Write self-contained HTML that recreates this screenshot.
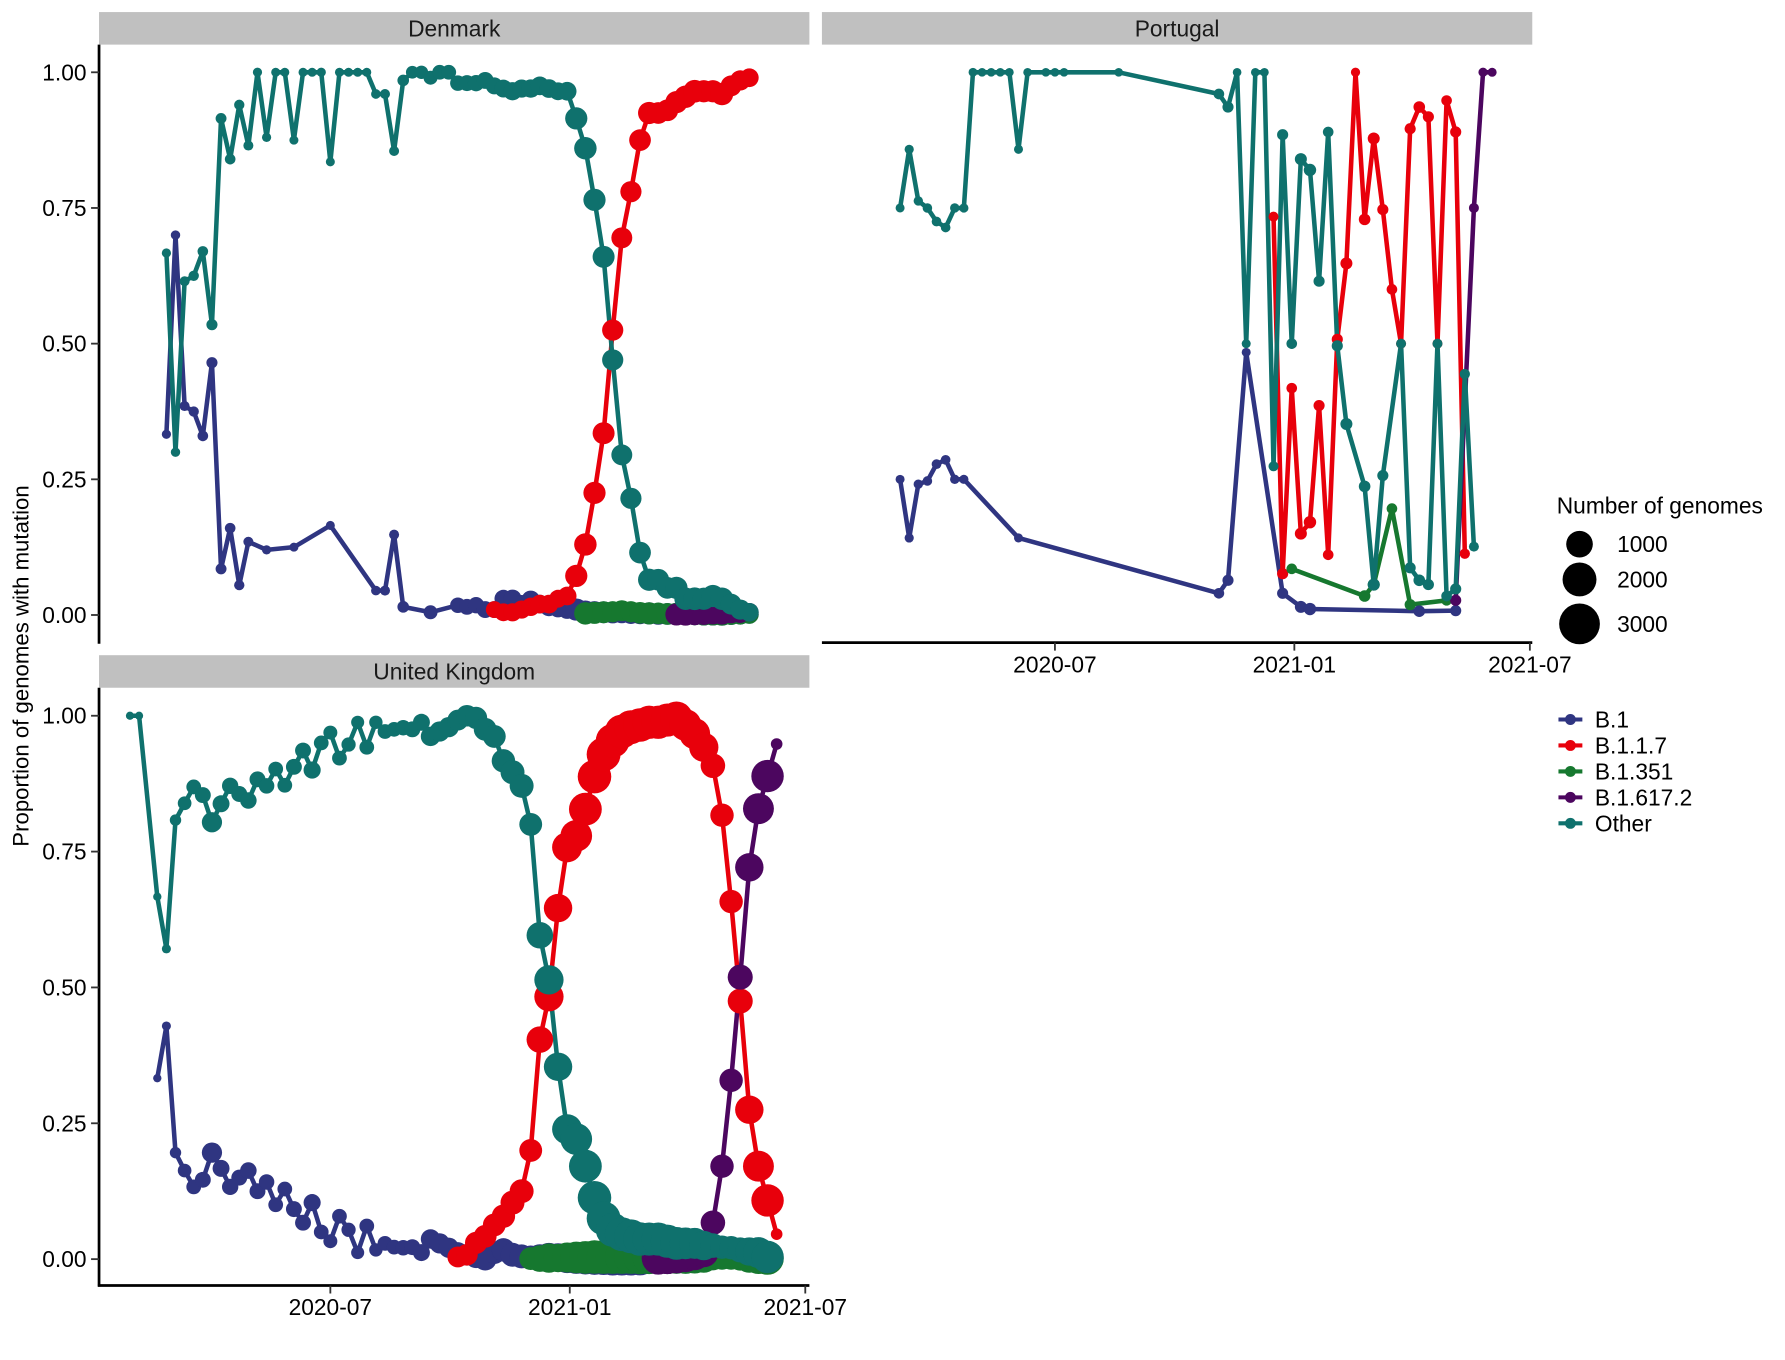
<!DOCTYPE html>
<html>
<head>
<meta charset="utf-8">
<style>
html,body{margin:0;padding:0;background:#fff;}
svg{display:block;font-family:"Liberation Sans",Arial,sans-serif;}
</style>
</head>
<body>
<svg id="chart" width="1785" height="1360" viewBox="0 0 1568 1194.6" preserveAspectRatio="none" xmlns="http://www.w3.org/2000/svg">
  <rect x="0" y="0" width="1568" height="1194.6" fill="#fff"/>
  <g>
    <rect x="87" y="10.6" width="624" height="28.6" fill="#c0c0c0"/>
    <text x="399" y="32" font-size="20" text-anchor="middle" fill="#1a1a1a">Denmark</text>
  </g>
  <g>
    <rect x="722" y="10.6" width="624" height="28.6" fill="#c0c0c0"/>
    <text x="1034" y="32" font-size="20" text-anchor="middle" fill="#1a1a1a">Portugal</text>
  </g>
  <g>
    <rect x="87" y="575.5" width="624" height="28.6" fill="#c0c0c0"/>
    <text x="399" y="597" font-size="20" text-anchor="middle" fill="#1a1a1a">United Kingdom</text>
  </g>
  <text transform="translate(25,585) rotate(-90)" font-size="19.5" text-anchor="middle" fill="#000">Proportion of genomes with mutation</text>
  <g id="axes"></g>
  <g id="marks"></g>
  <g>
    <text x="1367.5" y="451" font-size="20" fill="#000">Number of genomes</text>
    <circle cx="1387.5" cy="478" r="11.7" fill="#000"/>
    <text x="1420.5" y="485" font-size="20" fill="#000">1000</text>
    <circle cx="1387.5" cy="509" r="14.9" fill="#000"/>
    <text x="1420.5" y="516" font-size="20" fill="#000">2000</text>
    <circle cx="1387.5" cy="548" r="17.9" fill="#000"/>
    <text x="1420.5" y="555" font-size="20" fill="#000">3000</text>
  </g>
  <g id="legend"></g>
</svg>
<script>
const _ = null;
const weeks = ["2020-01-29","2020-02-05","2020-02-12","2020-02-19","2020-02-26","2020-03-04","2020-03-11","2020-03-18","2020-03-25","2020-04-01",
"2020-04-08","2020-04-15","2020-04-22","2020-04-29","2020-05-06","2020-05-13","2020-05-20","2020-05-27","2020-06-03","2020-06-10",
"2020-06-17","2020-06-24","2020-07-01","2020-07-08","2020-07-15","2020-07-22","2020-07-29","2020-08-05","2020-08-12","2020-08-19",
"2020-08-26","2020-09-02","2020-09-09","2020-09-16","2020-09-23","2020-09-30","2020-10-07","2020-10-14","2020-10-21","2020-10-28",
"2020-11-04","2020-11-11","2020-11-18","2020-11-25","2020-12-02","2020-12-09","2020-12-16","2020-12-23","2020-12-30","2021-01-06",
"2021-01-13","2021-01-20","2021-01-27","2021-02-03","2021-02-10","2021-02-17","2021-02-24","2021-03-03","2021-03-10","2021-03-17",
"2021-03-24","2021-03-31","2021-04-07","2021-04-14","2021-04-21","2021-04-28","2021-05-05","2021-05-12","2021-05-19","2021-05-26",
"2021-06-02","2021-06-09"];
const variants = ["B.1","B.1.1.7","B.1.351","B.1.617.2","Other"];
const colors = ["#2f3581","#e8000b","#16782f","#4c065f","#0f716d"];
const xTickLabels = ["2020-07","2021-01","2021-07"];
const xTickDates = ["2020-07-01","2021-01-01","2021-07-01"];
const yTickValues = [0,0.25,0.5,0.75,1];
const yTickLabels = ["0.00","0.25","0.50","0.75","1.00"];

// Denmark
const dkB1 = [_,_,_,_,.333,.70,.385,.375,.33,.465, .085,.16,.055,.135,_,.12,_,_,.125,_, _,_,.165,_,_,_,_,.045,.045,.148, .015,_,_,.005,_,_,.018,.015,.018,.01, .01,.03,.03,.02,.028,.02,.015,.012,.01,.01, .006,.005,.005,.004,.004,.003,.003,.003,.002,.002, .002,.002,.002,.001,.001,.001,.001,.001,.001,_, _,_];
const dkB117 = [_,_,_,_,_,_,_,_,_,_, _,_,_,_,_,_,_,_,_,_, _,_,_,_,_,_,_,_,_,_, _,_,_,_,_,_,_,_,_,_, .01,.005,.005,.01,.015,.02,.02,.03,.035,.072, .13,.225,.335,.525,.695,.78,.875,.925,.925,.93, .945,.955,.965,.965,.965,.96,.975,.985,.99,_, _,_];
const dkB1351 = [_,_,_,_,_,_,_,_,_,_, _,_,_,_,_,_,_,_,_,_, _,_,_,_,_,_,_,_,_,_, _,_,_,_,_,_,_,_,_,_, _,_,_,_,_,_,_,_,_,_, .003,.004,.005,.006,.008,.006,.004,.003,.003,.002, .002,.002,.002,.001,.001,.001,.001,.001,.001,_, _,_];
const dkB16172 = [_,_,_,_,_,_,_,_,_,_, _,_,_,_,_,_,_,_,_,_, _,_,_,_,_,_,_,_,_,_, _,_,_,_,_,_,_,_,_,_, _,_,_,_,_,_,_,_,_,_, _,_,_,_,_,_,_,_,_,_, .001,.001,.002,.002,.003,.003,.004,.004,.005,_, _,_];
const dkOther = [_,_,_,_,.667,.30,.615,.625,.67,.535, .915,.84,.94,.865,1,.88,1,1,.875,1, 1,1,.835,1,1,1,1,.96,.96,.855, .985,1,1,.99,1,1,.98,.98,.98,.985, .975,.97,.965,.97,.97,.975,.97,.965,.965,.915, .86,.765,.66,.47,.295,.215,.115,.065,.065,.05, .05,.03,.03,.03,.035,.03,.02,.01,.005,_, _,_];
const dkCount = [0,0,0,0,10,12,20,25,30,40, 35,30,25,20,10,10,8,8,8,8, 8,10,8,8,8,8,8,15,20,20, 50,80,100,120,150,150,180,200,220,250, 250,300,320,320,330,350,350,300,350,600, 620,600,580,520,500,520,560,600,560,560, 600,620,640,600,600,620,500,450,350,0, 0,0];

// Portugal
const ptB1 = [_,_,_,_,_,.25,.142,.241,.247,.278, .286,.25,.25,_,_,_,_,_,.142,_, _,_,_,_,_,_,_,_,_,_, _,_,_,_,_,_,_,_,_,_, .04,.064,_,.484,_,_,_,.04,_,.015, .011,_,_,_,_,_,_,_,_,_, _,_,.007,_,_,_,.008,_,_,_, _,_];
const ptB117 = [_,_,_,_,_,_,_,_,_,_, _,_,_,_,_,_,_,_,_,_, _,_,_,_,_,_,_,_,_,_, _,_,_,_,_,_,_,_,_,_, _,_,_,_,_,_,.734,.076,.418,.15, .171,.386,.111,.508,.648,1.0,.729,.878,.747,.6, .5,.896,.936,.918,.5,.948,.89,.113,_,_, _,_];
const ptB1351 = [_,_,_,_,_,_,_,_,_,_, _,_,_,_,_,_,_,_,_,_, _,_,_,_,_,_,_,_,_,_, _,_,_,_,_,_,_,_,_,_, _,_,_,_,_,_,_,_,.085,_, _,_,_,_,_,_,.035,.056,_,.196, _,.019,_,_,_,.027,_,_,_,_, _,_];
const ptB16172 = [_,_,_,_,_,_,_,_,_,_, _,_,_,_,_,_,_,_,_,_, _,_,_,_,_,_,_,_,_,_, _,_,_,_,_,_,_,_,_,_, _,_,_,_,_,_,_,_,_,_, _,_,_,_,_,_,_,_,_,_, _,_,_,_,_,_,.027,_,.75,1, 1,_];
const ptOther = [_,_,_,_,_,.75,.858,.763,.75,.725, .714,.75,.75,1,1,1,1,1,.858,1, _,1,1,1,_,_,_,_,_,1, _,_,_,_,_,_,_,_,_,_, .96,.936,1,.5,1,1,.274,.885,.5,.84, .82,.615,.89,.496,.352,_,.237,.056,.257,_, .5,.087,.064,.056,.5,.035,.048,.444,.126,_, _,_];
const ptCount = [0,0,0,0,0,8,10,12,14,16, 15,12,10,6,5,5,5,5,8,5, 0,5,5,5,0,0,0,0,0,5, 0,0,0,0,0,0,0,0,0,0, 30,40,5,8,5,5,20,40,30,60, 70,40,30,40,60,10,50,60,40,30, 20,40,50,40,20,30,40,25,20,10, 8,0];

// United Kingdom
const ukB1 = [_,_,_,.333,.429,.196,.163,.133,.146,.196, .167,.133,.15,.163,.125,.142,.1,.129,.092,.067, .104,.05,.033,.079,.054,.012,.061,.017,.029,.022, .021,.022,.012,.037,.029,.021,.012,.008,.004,0, .012,.017,.008,.005,.004,.003,.003,.003,.002,.002, .002,.002,.002,.001,.001,.001,.001,_,_,_, _,_,_,_,_,_,_,_,_,_, _,_];
const ukB117 = [_,_,_,_,_,_,_,_,_,_, _,_,_,_,_,_,_,_,_,_, _,_,_,_,_,_,_,_,_,_, _,_,_,_,_,_,.004,.008,.03,.042, .063,.079,.104,.125,.2,.404,.483,.646,.758,.779, .828,.888,.929,.954,.971,.979,.983,.988,.988,.992, .996,.983,.967,.942,.908,.817,.658,.475,.275,.171, .108,.046];
const ukB1351 = [_,_,_,_,_,_,_,_,_,_, _,_,_,_,_,_,_,_,_,_, _,_,_,_,_,_,_,_,_,_, _,_,_,_,_,_,_,_,_,_, _,_,_,_,.001,.001,.002,.002,.003,.003, .003,.004,.004,.004,.004,.004,.003,.003,.003,.003, .003,.002,.002,.002,.002,.002,.002,.002,.001,.001, .001,.001];
const ukB16172 = [_,_,_,_,_,_,_,_,_,_, _,_,_,_,_,_,_,_,_,_, _,_,_,_,_,_,_,_,_,_, _,_,_,_,_,_,_,_,_,_, _,_,_,_,_,_,_,_,_,_, _,_,_,_,_,_,_,_,.002,.003, .004,.005,.008,.012,.067,.171,.329,.519,.721,.829, .889,.948];
const ukOther = [1,1,_,.667,.571,.808,.839,.869,.854,.804, .838,.871,.856,.844,.883,.871,.902,.872,.906,.936, .9,.95,.969,.922,.947,.988,.942,.988,.971,.975, .978,.975,.988,.962,.971,.979,.992,1.0,.996,.975, .962,.917,.896,.871,.8,.596,.514,.354,.239,.221, .171,.113,.075,.054,.046,.042,.037,.037,.037,.033, .029,.029,.029,.025,.025,.022,.021,.017,.014,.012, .004,_];
const ukCount = [2,2,0,3,9,45,110,150,200,450, 250,220,200,230,200,180,150,150,200,200, 260,150,120,150,130,90,150,100,150,150, 180,200,250,400,450,450,500,550,600,650, 650,700,750,750,650,1000,1300,1200,1400,1600, 1750,1850,1900,1900,1900,1900,1850,1800,1800,1800, 1750,1600,1500,1300,800,700,700,850,1200,1500, 1700,50];

const NS = "http://www.w3.org/2000/svg";
function dayNum(s){ return Math.round((Date.parse(s+"T00:00:00Z") - Date.parse("2020-01-01T00:00:00Z"))/86400000); }
function makeX(x2021){ return function(s){ return x2021 + (dayNum(s) - 366) * 1.143; }; }
function makeY(y0, y1){ return function(v){ return y0 + (y1 - y0) * v; }; }
function rScale(n){ return 3.2 + 0.268 * Math.sqrt(Math.max(n, 0)); }
function el(tag, attrs, parent){ const e = document.createElementNS(NS, tag); for (const k in attrs) e.setAttribute(k, attrs[k]); parent.appendChild(e); return e; }

const panels = [
  {key:"denmark", series:[dkB1,dkB117,dkB1351,dkB16172,dkOther], count:dkCount, x:makeX(500.5), y:makeY(540.2,63.5)},
  {key:"portugal", series:[ptB1,ptB117,ptB1351,ptB16172,ptOther], count:ptCount, x:makeX(1137), y:makeY(540.2,63.5)},
  {key:"uk", series:[ukB1,ukB117,ukB1351,ukB16172,ukOther], count:ukCount, x:makeX(500.5), y:makeY(1106,628.7)}
];

const axes = document.getElementById("axes");
[{key:"denmark", top:39.2, bottom:565.5, y:panels[0].y},{key:"uk", top:604.1, bottom:1130.2, y:panels[2].y}].forEach(function(a){
  const g = el("g", {}, axes);
  
  
  el("line", {x1:87, y1:a.top, x2:87, y2:a.bottom, stroke:"#000", "stroke-width":2.4}, g);
  yTickValues.forEach(function(v, k){
    const yy = a.y(v);
    const t = el("line", {x1:80, y1:yy, x2:87, y2:yy, stroke:"#333", "stroke-width":1.6}, g);
    
    
    const lb = el("text", {x:76, y:yy+7, "font-size":20, "text-anchor":"end", fill:"#000"}, g);
    
    
    lb.textContent = yTickLabels[k];
  });
});
[{key:"uk", y:1129.2, x0:86, x1:711, sx:panels[2].x},{key:"portugal", y:564.5, x0:722, x1:1346, sx:panels[1].x}].forEach(function(a){
  const g = el("g", {}, axes);
  
  
  el("line", {x1:a.x0, y1:a.y, x2:a.x1, y2:a.y, stroke:"#000", "stroke-width":2.4}, g);
  xTickDates.forEach(function(d, k){
    const xx = a.sx(d);
    const t = el("line", {x1:xx, y1:a.y, x2:xx, y2:a.y+7, stroke:"#333", "stroke-width":1.6}, g);
    
    
    const lb = el("text", {x:xx, y:a.y+26, "font-size":20, "text-anchor":"middle", fill:"#000"}, g);
    
    
    lb.textContent = xTickLabels[k];
  });
});

const marks = document.getElementById("marks");
panels.forEach(function(p){
  const pg = el("g", {}, marks);
  
  
  p.series.forEach(function(vals, s){
    const pts = [];
    vals.forEach(function(v, i){ if (v !== null) pts.push(p.x(weeks[i]).toFixed(2) + "," + p.y(v).toFixed(2)); });
    if (pts.length > 1) {
      const ln = el("polyline", {points:pts.join(" "), fill:"none", stroke:colors[s], "stroke-width":4, "stroke-linejoin":"round", "stroke-linecap":"round"}, pg);
      
      
    }
  });
  p.series.forEach(function(vals, s){
    const g = el("g", {fill:colors[s]}, pg);
    
    
    vals.forEach(function(v, i){
      if (v === null) return;
      const c = el("circle", {cx:p.x(weeks[i]).toFixed(2), cy:p.y(v).toFixed(2), r:rScale(p.count[i]).toFixed(2)}, g);
      
      
    });
  });
});

const legend = document.getElementById("legend");
variants.forEach(function(name, k){
  const yy = 632 + k * 22.8;
  const g = el("g", {}, legend);
  
  
  el("line", {x1:1369, y1:yy, x2:1390, y2:yy, stroke:colors[k], "stroke-width":3.6}, g);
  el("circle", {cx:1379.5, cy:yy, r:4.8, fill:colors[k]}, g);
  const t = el("text", {x:1401, y:yy+7, "font-size":20, fill:"#000"}, g);
  t.textContent = name;
});
</script>
</body>
</html>
